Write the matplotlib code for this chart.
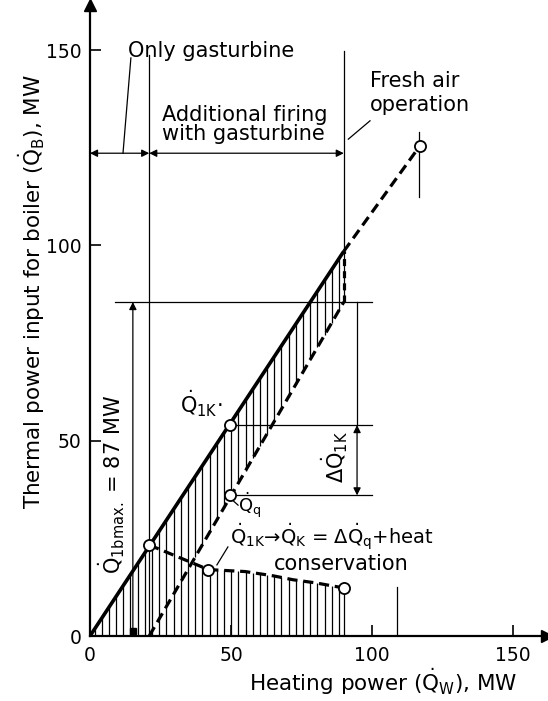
import numpy as np
import matplotlib
matplotlib.use("Agg")
import matplotlib.pyplot as plt

plt.rcParams['font.family'] = ['DejaVu Sans']
plt.rcParams['mathtext.fontset'] = 'dejavusans'
plt.rcParams['mathtext.default'] = 'regular'

# --- values (MW) ---
solid_x = [0, 90]
solid_y = [0, 98.5]
upper_dash_x = [21, 90]
upper_dash_y = [0, 85.5]
fresh_x = [90, 117]
fresh_y = [98.5, 125.5]
lower_x = [21, 42, 55, 65, 72, 80, 90]
lower_y = [23.3, 17, 16.5, 15.4, 14.4, 13.6, 12.3]
circle_x = [21, 49.5, 49.5, 42, 90, 117]
circle_y = [23.3, 54, 36, 17, 12.3, 125.5]
q1bmax = 85.5
q1k = 54
qq = 36
x_gt = 21        # end of "only gasturbine"
x_add = 90       # end of additional firing
y_range_arrow = 123.6
ticks = [0, 50, 100, 150]


def qdot(sub):
    # Q with a dot above it and a subscript
    return r'$\dot{Q}_{%s}$' % sub


fig = plt.figure(figsize=(5.48, 7.01), dpi=100)
ax = fig.add_axes([90/548, 65/701, 162*2.82/548, 161.5*3.906/701])
ax.set_xlim(0, 162)
ax.set_ylim(0, 161.5)

for s in ['top', 'right']:
    ax.spines[s].set_visible(False)
for s in ['left', 'bottom']:
    ax.spines[s].set_linewidth(1.6)
ax.plot(1, 0, '>k', ms=9, transform=ax.transAxes, clip_on=False)
ax.plot(0, 1, '^k', ms=9, transform=ax.transAxes, clip_on=False)

ax.set_xticks(ticks)
ax.set_yticks(ticks)
ax.tick_params(direction='in', length=8, width=1.2, labelsize=13.5, pad=6)
ax.tick_params(axis='x', pad=7)

# hatching
hx = np.arange(1.6, 90.01, 2.55)
hx = np.append(hx, 90)
for xi in hx:
    top = np.interp(xi, solid_x, solid_y)
    if xi <= x_gt:
        ax.vlines(xi, 0, top, color='k', lw=0.9)
        continue
    up = np.interp(xi, upper_dash_x, upper_dash_y)
    lo = np.interp(xi, lower_x, lower_y)
    if up <= lo:
        ax.vlines(xi, 0, top, color='k', lw=0.9)
    else:
        ax.vlines(xi, up, top, color='k', lw=0.9)
        ax.vlines(xi, 0, lo, color='k', lw=0.9)

# main curves
ax.plot(solid_x, solid_y, color='k', lw=2.6, solid_capstyle='butt')
ax.plot(upper_dash_x, upper_dash_y, color='k', lw=2.3, dashes=(3.2, 1.8))
ax.plot([x_add, x_add], [upper_dash_y[-1], solid_y[-1]], color='k', lw=2.3, dashes=(2.2, 1.6))
ax.plot(fresh_x, fresh_y, color='k', lw=2.3, dashes=(3.2, 1.8))
ax.plot(lower_x, lower_y, color='k', lw=2.3, dashes=(3.2, 1.8))

# thin construction lines
thin = dict(color='k', lw=0.9)
ax.plot([x_gt, x_gt], [0, 148.7], **thin)
ax.plot([x_add, x_add], [solid_y[-1], 149.7], **thin)
ax.plot([14.5, 11.7], [148, y_range_arrow], **thin)
ax.plot([99.3, 91.6], [131.9, 127.2], **thin)
ax.plot([8.9, 100], [q1bmax, q1bmax], **thin)
ax.plot([49.5, 100], [q1k, q1k], **thin)
ax.plot([49.5, 100], [qq, qq], **thin)
ax.plot([94.7, 94.7], [q1bmax, q1k], **thin)
ax.plot([116.7, 116.7], [112.5, 129], **thin)
ax.plot([109, 109], [0, 12.6], **thin)
ax.plot([48.9, 45], [22.8, 18.2], **thin)
ax.plot([50.2, 52.5], [35, 33.5], **thin)

arr = dict(color='k', lw=0.9, shrinkA=0, shrinkB=0, mutation_scale=11)
ax.annotate('', xy=(0, y_range_arrow), xytext=(x_gt, y_range_arrow),
            arrowprops=dict(arrowstyle='<|-|>', **arr))
ax.annotate('', xy=(x_gt, y_range_arrow), xytext=(x_add, y_range_arrow),
            arrowprops=dict(arrowstyle='<|-|>', **arr))
ax.annotate('', xy=(15.2, q1bmax), xytext=(15.2, 0),
            arrowprops=dict(arrowstyle='-|>', **arr))
ax.plot(15.2, 1.2, 's', color='k', ms=5)
ax.annotate('', xy=(94.7, q1k), xytext=(94.7, qq),
            arrowprops=dict(arrowstyle='<|-|>', **arr))

ax.plot(circle_x, circle_y, 'o', ms=8, mfc='white', mec='k', mew=1.3, zorder=5)

# labels
fs = 15
ax.text(13.5, 149.7, 'Only gasturbine', fontsize=fs, va='center')
ax.text(25.5, 131, 'Additional firing\nwith gasturbine', fontsize=fs,
        va='center', linespacing=0.9)
ax.text(99.3, 139, 'Fresh air\noperation', fontsize=fs, va='center', linespacing=1.2)
ax.text(7.8, 38.7, qdot('1bmax.') + ' = 87 MW', fontsize=fs, rotation=90,
        ha='center', va='center')
ax.text(32, 59.5, qdot('1K') + '\u00b7', fontsize=fs, va='center')
ax.text(52.5, 33.6, qdot('q'), fontsize=13, va='center')
ax.text(49.6, 25.3, qdot('1K') + '\u2192' + qdot('K') + ' = \u0394' + qdot('q') + '+heat',
        fontsize=14, va='center')
ax.text(65.2, 18.5, 'conservation', fontsize=fs, va='center')
ax.text(86.9, 45.9, '\u0394' + qdot('1K'), fontsize=fs, rotation=90,
        ha='center', va='center')

fig.text(383/548, 1 - 682/701, 'Heating power (' + qdot('W') + '), MW', fontsize=15.5,
         ha='center', va='center')
fig.text(32/548, 1 - 292/701, 'Thermal power input for boiler (' + qdot('B') + '), MW',
         fontsize=15.5, rotation=90, ha='center', va='center')

fig.savefig('out.png', dpi=100)
